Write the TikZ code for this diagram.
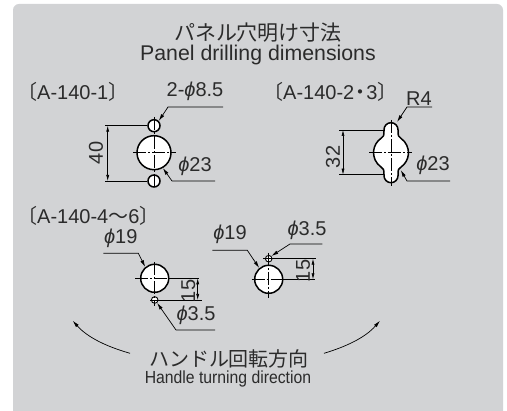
\documentclass[tikz,border=0pt]{standalone}
\usepackage{fontspec}
\setmainfont{Liberation Sans}
\newfontfamily\cjk{Noto Sans CJK JP}
\usetikzlibrary{arrows.meta}
\definecolor{panelgray}{HTML}{D2D3D5}
\definecolor{inkgray}{HTML}{2B2B2B}
\newcommand{\phisym}{\textit{\char"03D5}}
\tikzset{
    hole/.style={circle,draw=black,fill=white,line width=1.5pt,inner sep=0pt},
    txt/.style={inner sep=0pt,text=inkgray,font=\fontsize{20}{20}\selectfont},
    cjktxt/.style={inner sep=0pt,text=inkgray,font=\cjk\fontsize{21}{21}\selectfont},
    thin line/.style={line width=0.6pt,draw=black},
    dim/.style={line width=0.6pt,draw=black,{Latex[length=6pt,width=3pt]}-{Latex[length=6pt,width=3pt]}},
    leader/.style={line width=0.7pt,draw=black,{Latex[length=7pt,width=3.6pt]}-},
    center line/.style={line width=0.5pt,draw=black,dash pattern=on 13pt off 2pt on 2pt off 2pt}
}
\begin{document}
\begin{tikzpicture}[x=1pt,y=-1pt]
    \useasboundingbox (0,0) rectangle (507,411);
    \fill[panelgray] (13,411) [rounded corners=6pt] -- (13,4) -- (503,4) [sharp corners] -- (503,411) -- cycle;
    % headings
    \node (title) [cjktxt] at (258,33) {パネル穴明け寸法};
    \node (titleen) [txt,font=\fontsize{21.3}{21.3}\selectfont] at (258,55) {Panel drilling dimensions};
    \node (typeone) [txt,anchor=west] at (17,92) {{\cjk 〔}A-140-1{\cjk 〕}};
    \node (typetwo) [txt,anchor=west] at (263,92) {{\cjk 〔}A-140-2\kern-4pt{\cjk ・}\kern-4pt 3{\cjk 〕}};
    \node (typethree) [txt,anchor=west] at (17,216) {{\cjk 〔}A-140-4{\cjk 〜}6{\cjk 〕}};
    % A-140-1
    \node (bigone) [hole,minimum size=34pt] at (154,152.7) {};
    \node (topone) [hole,minimum size=12pt] at (154,125.7) {};
    \node (botone) [hole,minimum size=12pt] at (154,181) {};
    \draw[center line] (133,152.7) -- (176,152.7);
    \draw[center line] (154,117) -- (154,187);
    \coordinate (exta) at (105,125.7);
    \coordinate (extb) at (105,181);
    \draw[thin line] (exta) -- (topone.west);
    \draw[thin line] (extb) -- (botone.west);
    \draw[dim] (107.7,125.7) -- (107.7,181);
    \node (lforty) [txt,rotate=90] at (96,153) {40};
    \node (lholes) [txt] at (195,91) {2-\phisym 8.5};
    \coordinate (holesa) at (168,107);
    \coordinate (holesb) at (223,107);
    \draw[leader] (topone.north east) -- (holesa) -- (holesb);
    \node (lbigone) [txt] at (195,166) {\phisym 23};
    \coordinate (bigonea) at (172,181);
    \coordinate (bigoneb) at (215,181);
    \draw[leader] (bigone.-60) -- (bigonea) -- (bigoneb);
    % A-140-2.3
    \draw[black,fill=white,line width=1.5pt] (384,129.7) arc[start angle=180,end angle=0,radius=7pt]
        -- (398,131) .. controls (398,136) and (398.5,136.7) .. (401,138.4)
        arc[start angle=55,end angle=-55,radius=17.5pt]
        .. controls (398.5,168.7) and (398,169.4) .. (398,174.4)
        -- (398,175.7) arc[start angle=0,end angle=-180,radius=7pt]
        -- (384,174.4) .. controls (384,169.4) and (383.5,168.7) .. (381,167)
        arc[start angle=235,end angle=125,radius=17.5pt]
        .. controls (383.5,136.7) and (384,136) .. (384,131) -- cycle;
    \draw[center line] (369,152.7) -- (412,152.7);
    \draw[center line] (391,120) -- (391,186);
    \coordinate (extc) at (339,130);
    \coordinate (extd) at (339,174.7);
    \draw[thin line] (extc) -- (384,130);
    \draw[thin line] (extd) -- (384,174.7);
    \draw[dim] (343,130) -- (343,174.7);
    \node (lthirtytwo) [txt,rotate=90] at (333,157) {32};
    \node (lradius) [txt] at (419,99) {R4};
    \coordinate (radiusa) at (407,107);
    \coordinate (radiusb) at (432,107);
    \draw[leader] (397,122) -- (radiusa) -- (radiusb);
    \node (lbigtwo) [txt] at (433,165) {\phisym 23};
    \coordinate (bigtwoa) at (407,181);
    \coordinate (bigtwob) at (450,181);
    \draw[leader] (400.7,170) -- (bigtwoa) -- (bigtwob);
    % A-140-4~6 left
    \node (bigthree) [hole,minimum size=28pt] at (154.7,278.3) {};
    \node (smallthree) [hole,line width=0.9pt,minimum size=6.6pt] at (154.7,300) {};
    \draw[center line] (135,278.3) -- (175,278.3);
    \draw[center line] (154.7,262) -- (154.7,306);
    \draw[center line] (150,300) -- (160,300);
    \coordinate (exte) at (199,278.3);
    \coordinate (extf) at (201.7,300);
    \draw[thin line] (bigthree.east) -- (exte);
    \draw[thin line,line width=0.9pt] (smallthree.east) -- (extf);
    \draw[dim] (197.7,278.3) -- (197.7,300);
    \node (lfifteena) [txt,rotate=90] at (188.3,291) {15};
    \node (lnineteena) [txt] at (120.7,238.3) {\phisym 19};
    \coordinate (ninea) at (138.3,253.3);
    \coordinate (nineb) at (103.3,253.3);
    \draw[leader] (bigthree.130) -- (ninea) -- (nineb);
    \node (lsmalla) [txt] at (196,315) {\phisym 3.5};
    \coordinate (smalla) at (176,330);
    \coordinate (smallb) at (215,330);
    \draw[leader] (smallthree.-50) -- (smalla) -- (smallb);
    % A-140-4~6 right
    \node (bigfour) [hole,minimum size=28pt] at (268.7,279.3) {};
    \node (smallfour) [hole,line width=0.9pt,minimum size=6.6pt] at (268.7,258.7) {};
    \draw[center line] (251.7,279.3) -- (288,279.3);
    \draw[center line] (268.7,253) -- (268.7,298);
    \draw[center line] (263,258.7) -- (274,258.7);
    \coordinate (extg) at (315.7,258.7);
    \coordinate (exth) at (315,279.3);
    \draw[thin line,line width=0.9pt] (smallfour.east) -- (extg);
    \draw[thin line] (bigfour.east) -- (exth);
    \draw[dim] (313,258.7) -- (313,279.3);
    \node (lfifteenb) [txt,rotate=90] at (303,271) {15};
    \node (lnineteenb) [txt] at (230,234) {\phisym 19};
    \coordinate (ninec) at (247.3,250.3);
    \coordinate (nined) at (212.3,250.3);
    \draw[leader] (bigfour.130) -- (ninec) -- (nined);
    \node (lsmallb) [txt] at (307,230) {\phisym 3.5};
    \coordinate (smallc) at (290,244);
    \coordinate (smalld) at (322.3,244);
    \draw[leader] (smallfour.45) -- (smallc) -- (smalld);
    % turning direction
    \node (turn) [cjktxt,font=\cjk\fontsize{20}{20}\selectfont] at (229,359) {ハンドル回転方向};
    \node (turnen) [txt,xscale=0.9,font=\fontsize{17.5}{17.5}\selectfont] at (228,379) {Handle turning direction};
    \coordinate (turnl) at (130,353.3);
    \coordinate (turnr) at (324,353.3);
    \coordinate (tipl) at (72.7,320.7);
    \coordinate (tipr) at (380,320.7);
    \draw[leader] (tipl) .. controls (88,338) and (108,347) .. (turnl);
    \draw[leader] (tipr) .. controls (365,338) and (345,347) .. (turnr);
\end{tikzpicture}
\end{document}
